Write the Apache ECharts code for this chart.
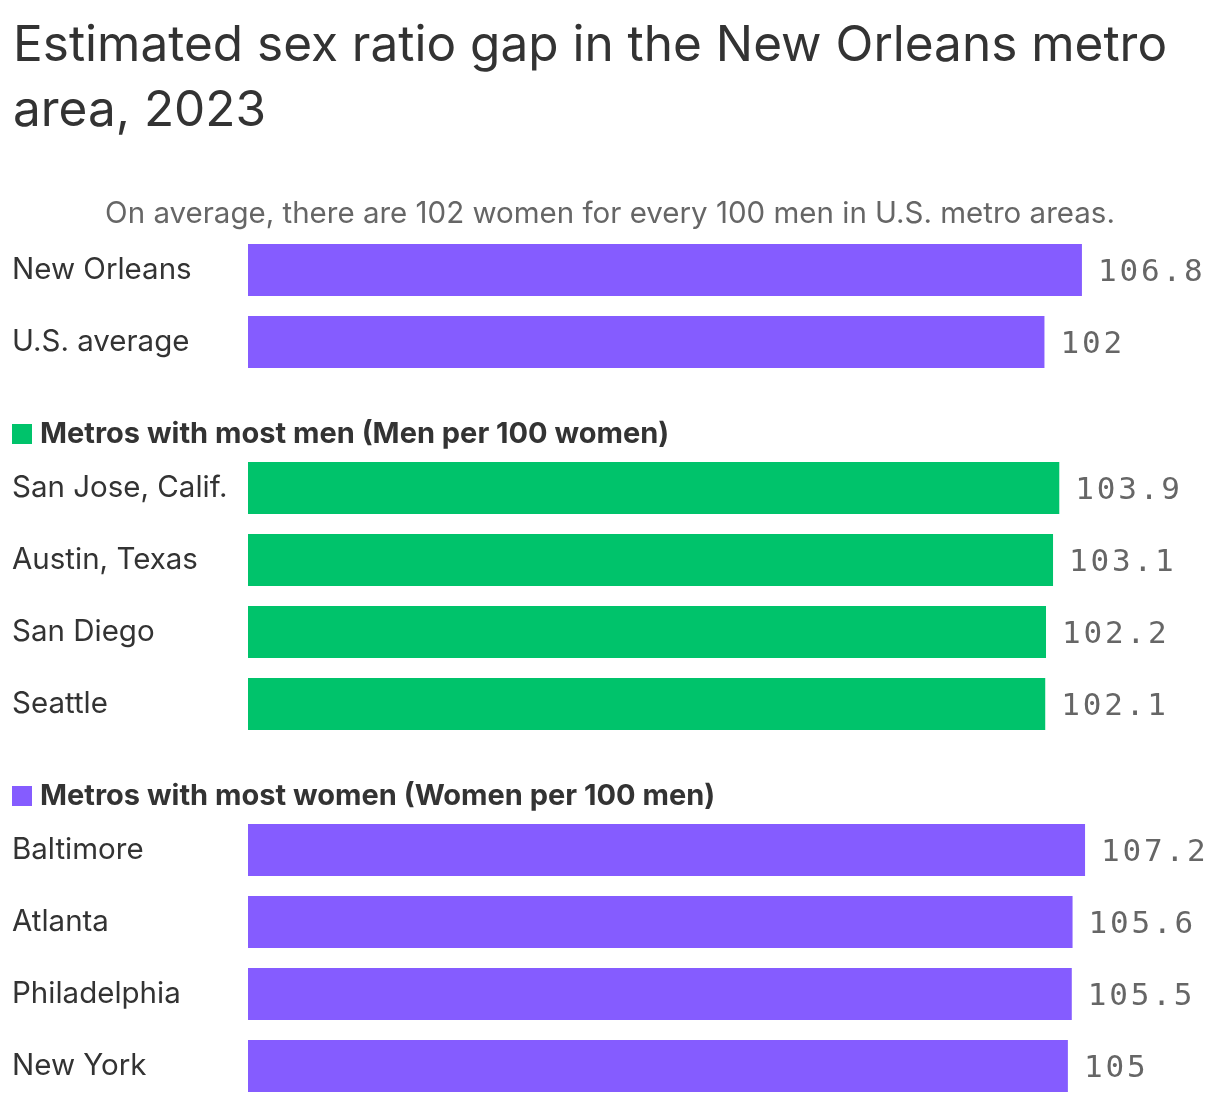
<!DOCTYPE html>
<html>
<head>
<meta charset="utf-8">
<script src="https://cdn.jsdelivr.net/npm/echarts@6/dist/echarts.min.js"></script>
<style>html,body{margin:0;padding:0;background:#fff}#c{width:1220px;height:1102px}</style>
</head>
<body>
<div id="c"></div>
<script>
const titleText = "Estimated sex ratio gap in the New Orleans metro\narea, 2023";
const subtitleText = "On average, there are 102 women for every 100 men in U.S. metro areas.";
const menHeader = "Metros with most men (Men per 100 women)";
const womenHeader = "Metros with most women (Women per 100 men)";

const topCategories = ["New Orleans", "U.S. average"];
const topValues = [106.8, 102];

const menCategories = ["San Jose, Calif.", "Austin, Texas", "San Diego", "Seattle"];
const menValues = [103.9, 103.1, 102.2, 102.1];

const womenCategories = ["Baltimore", "Atlanta", "Philadelphia", "New York"];
const womenValues = [107.2, 105.6, 105.5, 105];

const PURPLE = "#855CFF";
const GREEN = "#00C36B";
const FONT = "Inter, 'Noto Sans', sans-serif";

const chart = echarts.init(document.getElementById('c'), null, {renderer: 'canvas'});

const grids = [
  {left: 248, width: 937, top: 234, height: 144},
  {left: 248, width: 937, top: 452, height: 288},
  {left: 248, width: 937, top: 814, height: 288}
];
const cats = [topCategories, menCategories, womenCategories];
const vals = [topValues, menValues, womenValues];
const colors = [PURPLE, GREEN, PURPLE];

function spaced(p) {
  return String(p.value).split('').map(ch => '{d|' + ch + '}').join('');
}

const option = {
  animation: false,
  backgroundColor: '#fff',
  title: {
    text: titleText, left: 8, top: 9,
    textStyle: {fontFamily: FONT, fontSize: 49.5, fontWeight: 'normal', color: '#333', lineHeight: 65}
  },
  graphic: [
    {type: 'text', left: 'center', top: 199, style: {text: subtitleText, font: "29.5px " + FONT, fill: '#666'}},
    {type: 'rect', shape: {x: 12, y: 424, width: 20, height: 20}, style: {fill: GREEN}},
    {type: 'text', x: 40, y: 434, style: {text: menHeader, font: "bold 29px " + FONT, fill: '#333', textVerticalAlign: 'middle'}},
    {type: 'rect', shape: {x: 12, y: 786, width: 20, height: 20}, style: {fill: PURPLE}},
    {type: 'text', x: 40, y: 796, style: {text: womenHeader, font: "bold 29px " + FONT, fill: '#333', textVerticalAlign: 'middle'}}
  ],
  grid: grids,
  xAxis: grids.map((g, i) => ({type: 'value', gridIndex: i, min: 0, max: 120, show: false})),
  yAxis: grids.map((g, i) => ({
    type: 'category', gridIndex: i, data: cats[i], inverse: true,
    axisLine: {show: false}, axisTick: {show: false}, splitLine: {show: false},
    axisLabel: {align: 'left', margin: 236, fontFamily: FONT, fontSize: 29.5, color: '#333', verticalAlign: 'middle', padding: [0,0,4,0]}
  })),
  series: grids.map((g, i) => ({
    type: 'bar', xAxisIndex: i, yAxisIndex: i, data: vals[i], barWidth: 52,
    itemStyle: {color: colors[i]},
    label: {
      show: true, position: 'right', distance: 16, formatter: spaced, offset: [0, 3],
      rich: {d: {fontFamily: "'DejaVu Sans Mono', monospace", fontSize: 31, color: '#666', width: 21.5, align: 'left'}}
    }
  }))
};
chart.setOption(option);
</script>
</body>
</html>
